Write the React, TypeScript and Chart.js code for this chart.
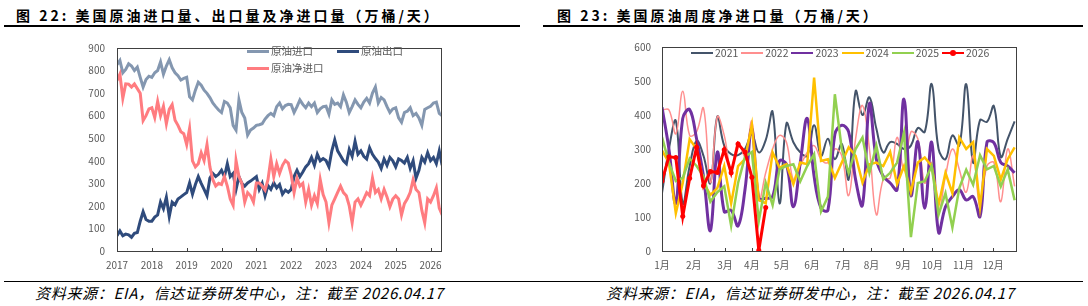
import React, { useEffect, useRef } from "react";
import { Chart, registerables } from "chart.js";
Chart.register(...registerables);

const FONT = "'Noto Sans CJK SC', 'Noto Sans', sans-serif";
const TICK_COLOR = "#595959";

// ---------- Left chart: monthly, 2017-01 .. 2026-04 (万桶/天) ----------
const startYear = 2017;
const leftSeriesNames = ["原油进口", "原油出口", "原油净进口"];
const leftColors = ["#8497B0", "#2F4B7C", "#FF7C80"];
const yearTicks = [2017, 2018, 2019, 2020, 2021, 2022, 2023, 2024, 2025, 2026];

const importVals = [
  826, 845, 790, 805, 830, 820, 800, 815, 770, 727, 760, 775,
  770, 790, 800, 838, 784, 820, 848, 812, 790, 777, 758, 765,
  770, 684, 670, 713, 748, 735, 713, 699, 680, 656, 640, 625,
  614, 663, 656, 635, 557, 536, 670, 614, 590, 514, 536, 545,
  557, 560, 564, 585, 600, 610, 600, 640, 656, 630, 645, 650,
  649, 614, 640, 670, 650, 635, 656, 640, 656, 614, 630, 640,
  642, 607, 670, 650, 656, 640, 692, 660, 614, 640, 670, 650,
  635, 660, 677, 656, 700, 727, 656, 680, 670, 640, 614, 630,
  635, 590, 571, 614, 620, 635, 600, 610, 590, 557, 628, 635,
  642, 656, 660, 610, 600,
];
const exportVals = [
  68, 89, 68, 75, 72, 61, 78, 82, 132, 174, 140, 132,
  132, 150, 160, 217, 188, 238, 153, 217, 205, 231, 240, 250,
  259, 302, 252, 295, 330, 300, 273, 245, 323, 344, 330, 340,
  358, 330, 387, 330, 344, 273, 330, 300, 288, 302, 310, 320,
  330, 273, 300, 245, 290, 273, 302, 280, 295, 252, 270, 260,
  273, 330, 358, 330, 350, 373, 387, 415, 380, 429, 400, 410,
  401, 373, 444, 493, 444, 422, 400, 387, 451, 420, 486, 429,
  444, 420, 408, 458, 429, 410, 394, 366, 408, 380, 415, 400,
  373, 408, 401, 390, 415, 366, 400, 323, 358, 415, 394, 436,
  401, 415, 387, 444, 380,
];
const netVals = [
  755, 784, 677, 741, 740, 727, 741, 720, 699, 578, 600, 630,
  635, 592, 663, 600, 642, 564, 628, 649, 580, 557, 529, 520,
  472, 543, 400, 373, 387, 436, 401, 472, 373, 316, 288, 300,
  295, 330, 288, 231, 203, 401, 330, 300, 217, 259, 245, 217,
  302, 302, 288, 270, 316, 408, 330, 387, 344, 380, 401, 390,
  337, 259, 323, 288, 300, 217, 273, 203, 245, 210, 316, 250,
  217, 125, 203, 231, 260, 288, 259, 245, 200, 125, 217, 231,
  203, 230, 259, 245, 323, 259, 273, 231, 273, 240, 196, 230,
  245, 231, 160, 210, 231, 260, 316, 273, 259, 180, 125, 231,
  217, 245, 280, 190, 160,
];

// ---------- Right chart: weekly net imports by year ----------
const monthLabels = ["1月", "2月", "3月", "4月", "5月", "6月", "7月", "8月", "9月", "10月", "11月", "12月"];
const monthTickWeeks = [0, 4.6, 9.1, 13.0, 17.3, 21.7, 26.2, 30.3, 34.9, 39.1, 43.6, 47.9];
const yearNames = ["2021", "2022", "2023", "2024", "2025", "2026"];
const yearColors = ["#44546A", "#FF8F8F", "#7030A0", "#FFC000", "#92D050", "#FF0000"];

const y2021 = [
  170, 300, 383, 140, 250, 324, 280, 200, 395, 310, 285, 282, 300,
  343, 290, 326, 409, 140, 375, 320, 290, 280, 370, 280, 330, 270,
  315, 211, 470, 400, 452, 360, 290, 320, 315, 300, 310, 362, 350,
  491, 300, 270, 340, 310, 491, 260, 385, 380, 426, 277, 330, 381,
];
const y2022 = [
  415, 415, 345, 470, 340, 350, 420, 201, 395, 340, 240, 320, 280,
  381, 149, 230, 300, 340, 320, 210, 250, 290, 310, 270, 260, 300,
  280, 163, 330, 428, 300, 107, 210, 215, 334, 240, 350, 330, 200,
  260, 116, 220, 300, 240, 173, 280, 130, 250, 260, 145, 300, 190,
];
const y2023 = [
  423, 300, 140, 390, 416, 330, 220, 60, 291, 116, 120, 74, 180,
  360, 155, 155, 160, 265, 255, 130, 260, 390, 220, 126, 120, 343,
  370, 350, 210, 135, 433, 270, 220, 200, 180, 447, 163, 322, 126,
  320, 55, 130, 160, 180, 150, 160, 102, 320, 319, 260, 250, 230,
];
const y2024 = [
  296, 260, 111, 200, 329, 300, 200, 165, 185, 250, 140, 250, 270,
  371, 150, 140, 290, 245, 255, 197, 260, 255, 510, 265, 270, 215,
  260, 305, 280, 201, 255, 260, 250, 291, 197, 250, 173, 260, 275,
  250, 135, 230, 170, 334, 300, 320, 130, 300, 280, 210, 270, 305,
];
const y2025 = [
  335, 260, 206, 215, 272, 250, 220, 145, 173, 190, 74, 200, 277,
  291, 88, 201, 135, 240, 250, 255, 205, 250, 285, 116, 160, 461,
  300, 230, 300, 334, 230, 310, 211, 230, 260, 348, 41, 200, 205,
  250, 107, 170, 69, 185, 239, 195, 282, 240, 250, 190, 240, 149,
];
const y2026 = [206, 277, 275, 102, 214, 305, 192, 234, 231, 298, 230, 315, 291, 217, 2, 128];

const yearSeries = [y2021, y2022, y2023, y2024, y2025, y2026];
const yearWidths = [2, 1.5, 3, 2.5, 2.5, 3];
const yearTension = [0.4, 0.4, 0.4, 0, 0, 0];

// ---------- plugins ----------
const framePlugin = {
  id: "frame",
  afterDraw(chart: any) {
    const { ctx, chartArea: a } = chart;
    ctx.save();
    ctx.strokeStyle = "#404040";
    ctx.lineWidth = 1;
    ctx.strokeRect(Math.round(a.left) + 0.5, Math.round(a.top) + 0.5, Math.round(a.right - a.left), Math.round(a.bottom - a.top));
    const xs = chart.scales.x;
    ctx.beginPath();
    xs.ticks.forEach((t: any) => {
      const px = Math.round(xs.getPixelForValue(t.value)) + 0.5;
      ctx.moveTo(px, Math.round(a.bottom));
      ctx.lineTo(px, Math.round(a.bottom) - 3);
    });
    ctx.stroke();
    ctx.restore();
  },
};

const tickFont = { family: FONT, size: 10 };

function LegendLine({ color, width, marker }: { color: string; width: number; marker?: boolean }) {
  return (
    <span style={{ position: "relative", display: "inline-block", width: 22, height: 10, marginRight: 2 }}>
      <span style={{ position: "absolute", left: 0, right: 0, top: 5 - width / 2, height: width, background: color }} />
      {marker && (
        <span style={{ position: "absolute", left: 8, top: 2, width: 6, height: 6, borderRadius: 3, background: color }} />
      )}
    </span>
  );
}

export default function App() {
  const leftRef = useRef<HTMLCanvasElement>(null);
  const rightRef = useRef<HTMLCanvasElement>(null);

  useEffect(() => {
    document.body.style.margin = "0";
    const leftData = [importVals, exportVals, netVals];
    const c1 = new Chart(leftRef.current as HTMLCanvasElement, {
      type: "line",
      data: {
        datasets: leftData.map((arr, k) => ({
          label: leftSeriesNames[k],
          data: arr.map((v, i) => ({ x: startYear + i / 12, y: v })),
          borderColor: leftColors[k],
          backgroundColor: leftColors[k],
          borderWidth: 3,
          pointRadius: 0,
          tension: 0,
          order: 3 - k,
        })),
      },
      options: {
        responsive: false,
        animation: false,
        layout: { padding: { top: 9, right: 9, left: 0, bottom: 0 } },
        plugins: { legend: { display: false }, tooltip: { enabled: false } },
        scales: {
          x: {
            type: "linear",
            min: 2017,
            max: 2026.3,
            grid: { display: false, drawTicks: false },
            border: { display: false },
            afterBuildTicks: (s: any) => { s.ticks = yearTicks.map((v) => ({ value: v })); },
            ticks: { autoSkip: false, maxRotation: 0, padding: 8, color: TICK_COLOR, font: tickFont, callback: (v: any) => String(v) },
            afterFit: (s: any) => { s.height = 24; },
          },
          y: {
            min: 0,
            max: 900,
            grid: { display: false, drawTicks: false },
            border: { display: false },
            ticks: { stepSize: 100, padding: 12, color: TICK_COLOR, font: tickFont },
            afterFit: (s: any) => { s.width = 67; },
          },
        },
      },
      plugins: [framePlugin],
    } as any);

    const c2 = new Chart(rightRef.current as HTMLCanvasElement, {
      type: "line",
      data: {
        datasets: yearSeries.map((arr, k) => ({
          label: yearNames[k],
          data: arr.map((v, i) => ({ x: i, y: v })),
          borderColor: yearColors[k],
          backgroundColor: yearColors[k],
          borderWidth: yearWidths[k],
          pointRadius: k === 5 ? 2.5 : 0,
          pointBorderWidth: 0,
          tension: yearTension[k],
          order: 6 - k,
        })),
      },
      options: {
        responsive: false,
        animation: false,
        layout: { padding: { top: 9, right: 9, left: 0, bottom: 0 } },
        plugins: { legend: { display: false }, tooltip: { enabled: false } },
        scales: {
          x: {
            type: "linear",
            min: 0,
            max: 51.2,
            grid: { display: false, drawTicks: false },
            border: { display: false },
            afterBuildTicks: (s: any) => { s.ticks = monthTickWeeks.map((v) => ({ value: v })); },
            ticks: {
              autoSkip: false,
              maxRotation: 0,
              padding: 8,
              color: TICK_COLOR,
              font: tickFont,
              callback: (_v: any, idx: number) => monthLabels[idx],
            },
            afterFit: (s: any) => { s.height = 24; },
          },
          y: {
            min: 0,
            max: 600,
            grid: { display: false, drawTicks: false },
            border: { display: false },
            ticks: { stepSize: 100, padding: 11, color: TICK_COLOR, font: tickFont },
            afterFit: (s: any) => { s.width = 62; },
          },
        },
      },
      plugins: [framePlugin],
    } as any);

    return () => {
      c1.destroy();
      c2.destroy();
    };
  }, []);

  const titleStyle: React.CSSProperties = {
    position: "absolute",
    top: 6,
    fontFamily: FONT,
    fontWeight: 700,
    fontSize: 14,
    lineHeight: "18px",
    letterSpacing: 3,
    color: "#000",
    whiteSpace: "nowrap",
  };
  const footStyle: React.CSSProperties = {
    position: "absolute",
    top: 284,
    fontFamily: FONT,
    fontStyle: "italic",
    fontSize: 15,
    lineHeight: "18px",
    letterSpacing: 0.7,
    color: "#000",
    whiteSpace: "nowrap",
  };
  const legText: React.CSSProperties = { fontFamily: FONT, fontSize: 10.5, color: TICK_COLOR, lineHeight: "14px" };

  return (
    <div style={{ position: "relative", width: 1088, height: 306, background: "#fff", overflow: "hidden" }}>
      <div style={{ ...titleStyle, left: 16 }}>图 22:  美国原油进口量、出口量及净进口量（万桶/天）</div>
      <div style={{ position: "absolute", left: 4, top: 25, width: 516, height: 1.5, background: "#000" }} />
      <div style={{ ...titleStyle, left: 557 }}>图 23:  美国原油周度净进口量（万桶/天）</div>
      <div style={{ position: "absolute", left: 543, top: 25, width: 540, height: 1.5, background: "#000" }} />

      <canvas ref={leftRef} width={400} height={245} style={{ position: "absolute", left: 50, top: 30, width: 400, height: 245 }} />
      <canvas ref={rightRef} width={425} height={245} style={{ position: "absolute", left: 600, top: 30, width: 425, height: 245 }} />

      {/* left legend */}
      <div style={{ position: "absolute", left: 247, top: 44, display: "flex", alignItems: "center", ...legText }}>
        <LegendLine color={leftColors[0]} width={3} />
        <span>{leftSeriesNames[0]}</span>
      </div>
      <div style={{ position: "absolute", left: 337, top: 44, display: "flex", alignItems: "center", ...legText }}>
        <LegendLine color={leftColors[1]} width={3} />
        <span>{leftSeriesNames[1]}</span>
      </div>
      <div style={{ position: "absolute", left: 247, top: 61, display: "flex", alignItems: "center", ...legText }}>
        <LegendLine color={leftColors[2]} width={3} />
        <span>{leftSeriesNames[2]}</span>
      </div>

      {/* right legend */}
      {yearNames.map((n, k) => (
        <div key={n} style={{ position: "absolute", left: 691 + k * 50.2, top: 46, display: "flex", alignItems: "center", ...legText }}>
          <LegendLine color={yearColors[k]} width={Math.min(yearWidths[k], 2.5)} marker={k === 5} />
          <span>{n}</span>
        </div>
      ))}

      <div style={{ position: "absolute", left: 4, top: 281, width: 1079, height: 1, background: "#000" }} />
      <div style={{ ...footStyle, left: 35 }}>资料来源：EIA，信达证券研发中心，注：截至 2026.04.17</div>
      <div style={{ ...footStyle, left: 606 }}>资料来源：EIA，信达证券研发中心，注：截至 2026.04.17</div>
    </div>
  );
}
